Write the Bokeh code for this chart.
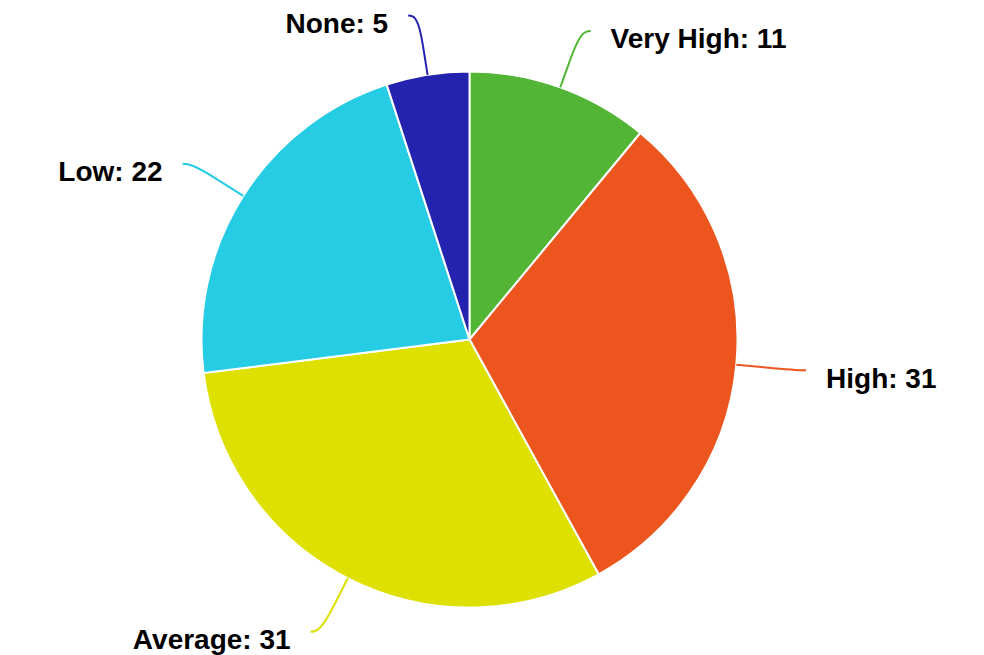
import numpy as np
from bokeh.plotting import figure
from bokeh.models import Range1d, ColumnDataSource
from bokeh.embed import file_html
from bokeh.resources import INLINE
from bokeh.core.properties import value

# ---- data ----
categories = ["Very High", "High", "Average", "Low", "None"]
counts = [11, 31, 31, 22, 5]
colors = ["#52b535", "#ec561e", "#dde000", "#26cbe4", "#2423b0"]

# ---- layout (data units == screen pixels; y measured upward) ----
W, H = 976, 655
CX, CY = 469, 655 - 339
R = 268

p = figure(width=W, height=H, output_backend="svg", toolbar_location=None,
           x_range=Range1d(0, W), y_range=Range1d(655 - H, 655), min_border=0)
p.axis.visible = False
p.grid.visible = False
p.outline_line_color = None
p.background_fill_color = "white"
p.border_fill_color = "white"

total = float(sum(counts))
fr = np.array(counts) / total
cum = np.concatenate([[0.0], np.cumsum(fr)])
start = np.pi / 2 - 2 * np.pi * cum[:-1]
end = np.pi / 2 - 2 * np.pi * cum[1:]

src = ColumnDataSource(dict(start=start, end=end, color=colors,
                            cat=categories, val=counts))
p.wedge(x=CX, y=CY, radius=R, start_angle="start", end_angle="end",
        direction="clock", fill_color="color", line_color="white",
        line_width=2, source=src)

mid = (start + end) / 2
ax, ay, bx, by, tx, ty, c0x, c1x, c1y = [], [], [], [], [], [], [], [], []
lx, ly, labels, aligns = [], [], [], []
for i, m in enumerate(mid):
    ux, uy = np.cos(m), np.sin(m)
    side = 1 if ux >= 0 else -1
    touch = (CX + R * ux, CY + R * uy)
    brk = (CX + (R + 30) * ux, CY + (R + 30) * uy)
    anc = (CX + (R + 60) * ux + side * 10, CY + (R + 60) * uy)
    ax.append(anc[0]); ay.append(anc[1])
    bx.append(brk[0]); by.append(brk[1])
    tx.append(touch[0]); ty.append(touch[1])
    c0x.append(anc[0] - side * 5)
    c1x.append(2 * brk[0] - touch[0]); c1y.append(2 * brk[1] - touch[1])
    lx.append(anc[0] + side * 20); ly.append(anc[1] - 8)
    labels.append(f"{categories[i]}: {counts[i]}")
    aligns.append("left" if side > 0 else "right")

csrc = ColumnDataSource(dict(ax=ax, ay=ay, bx=bx, by=by, tx=tx, ty=ty,
                             c0x=c0x, c1x=c1x, c1y=c1y, color=colors))
p.bezier(x0="ax", y0="ay", x1="bx", y1="by", cx0="c0x", cy0="ay",
         cx1="c1x", cy1="c1y", line_color="color", line_width=2, source=csrc)
p.segment(x0="bx", y0="by", x1="tx", y1="ty", line_color="color",
          line_width=2, source=csrc)

lsrc = ColumnDataSource(dict(x=lx, y=ly, text=labels, align=aligns))
p.text(x="x", y="y", text="text", text_align="align", text_baseline="middle",
       text_font=value("Liberation Sans"), text_font_style="bold",
       text_font_size="28px", text_color="#000000", source=lsrc)

open("out.html", "w").write(file_html(p, INLINE))
